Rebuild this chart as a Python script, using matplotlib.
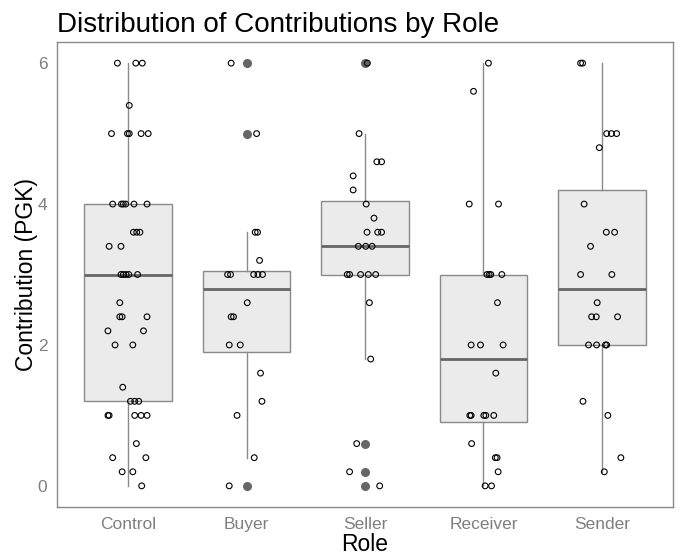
import numpy as np
import matplotlib
matplotlib.use("Agg")
import matplotlib.pyplot as plt

plt.rcParams['font.family'] = ['Liberation Sans', 'DejaVu Sans']

roles = ['Control', 'Buyer', 'Seller', 'Receiver', 'Sender']

# contributions (PGK), with the horizontal jitter of each point
control = [6.0, 6.0, 6.0, 5.4, 5.0, 5.0, 5.0, 5.0, 5.0,
           4.0, 4.0, 4.0, 4.0, 4.0, 4.0, 3.6, 3.6, 3.6, 3.4, 3.4,
           3.0, 3.0, 3.0, 3.0, 3.0, 2.6, 2.4, 2.4, 2.4, 2.2, 2.2, 2.0, 2.0,
           1.4, 1.2, 1.2, 1.2, 1.0, 1.0, 1.0, 1.0, 1.0,
           0.6, 0.4, 0.4, 0.2, 0.2, 0.0]
control_jit = [-0.09, 0.065, 0.12, 0.01, -0.14, -0.005, 0.01, 0.11, 0.17,
               -0.13, -0.056, -0.04, -0.02, 0.05, 0.16, 0.045, 0.073, 0.10, -0.16, -0.06,
               -0.06, -0.04, -0.017, 0.006, 0.08, -0.07, -0.07, -0.05, 0.16, -0.17, 0.13, -0.11, 0.04,
               -0.045, 0.02, 0.056, 0.09, -0.17, -0.16, 0.056, 0.11, 0.16,
               0.07, -0.13, 0.15, -0.05, 0.04, 0.115]

buyer = [6.0, 5.0, 3.6, 3.6, 3.2, 3.0, 3.0, 3.0, 3.0, 3.0,
         2.6, 2.4, 2.4, 2.0, 2.0, 1.6, 1.2, 1.0, 0.4, 0.0]
buyer_jit = [-0.13, 0.085, 0.073, 0.093, 0.11, -0.16, -0.135, 0.06, 0.096, 0.135,
             0.006, -0.13, -0.11, -0.146, -0.053, 0.118, 0.13, -0.08, 0.065, -0.146]

seller = [6.0, 5.0, 4.6, 4.6, 4.4, 4.2, 4.0, 3.8, 3.6, 3.6, 3.6,
          3.4, 3.4, 3.4, 3.0, 3.0, 3.0, 3.0, 3.0, 2.6, 1.8, 0.6, 0.2, 0.0]
seller_jit = [0.02, -0.05, 0.10, 0.14, -0.10, -0.10, 0.01, 0.076, 0.017, 0.107, 0.14,
              -0.056, 0.006, 0.06, -0.15, -0.13, -0.037, 0.028, 0.09, 0.037, 0.048, -0.07, -0.13, 0.124]

receiver = [6.0, 5.6, 4.0, 4.0, 3.0, 3.0, 3.0, 3.0, 2.6, 2.0, 2.0, 2.0,
            1.6, 1.0, 1.0, 1.0, 1.0, 1.0, 0.6, 0.4, 0.4, 0.2, 0.0, 0.0]
receiver_jit = [0.042, -0.084, -0.12, 0.127, 0.03, 0.048, 0.062, 0.155, 0.118, -0.104, -0.025, 0.166,
                0.104, -0.115, -0.104, 0.003, 0.02, 0.087, -0.10, 0.10, 0.115, 0.124, 0.014, 0.068]

sender = [6.0, 6.0, 5.0, 5.0, 5.0, 4.8, 4.0, 3.6, 3.6, 3.4, 3.0, 3.0,
          2.6, 2.4, 2.4, 2.4, 2.0, 2.0, 2.0, 2.0, 1.2, 1.0, 0.4, 0.2]
sender_jit = [-0.18, -0.163, 0.04, 0.08, 0.124, -0.022, -0.15, 0.037, 0.107, -0.096, -0.18, 0.084,
              -0.04, -0.087, -0.048, 0.132, -0.113, -0.045, 0.03, 0.04, -0.16, 0.05, 0.16, 0.02]

data = [control, buyer, seller, receiver, sender]
jitter = [control_jit, buyer_jit, seller_jit, receiver_jit, sender_jit]

fig = plt.figure(figsize=(6.8, 5.56), dpi=100)
fig.set_facecolor('white')
ax = fig.add_axes([57/680, 1-507/556, 616/680, 465/556])

pos = np.arange(1, len(roles)+1)
bp = ax.boxplot(data, positions=pos, widths=0.74, patch_artist=True, whis=1.5,
                showcaps=False, zorder=1,
                boxprops=dict(facecolor='#ebebeb', edgecolor='#8a8a8a', linewidth=1.0),
                medianprops=dict(color='#666666', linewidth=2.0),
                whiskerprops=dict(color='#8a8a8a', linewidth=1.0),
                flierprops=dict(marker='o', markerfacecolor='#666666', markeredgecolor='#666666',
                                markersize=5.5))

for i in range(len(roles)):
    x = pos[i] + np.asarray(jitter[i])
    ax.scatter(x, data[i], s=17, facecolors='none', edgecolors='black', linewidths=0.8, zorder=3)

ax.set_xlim(0.4, 5.6)
ax.set_ylim(-0.3, 6.3)
ax.set_xticks(pos)
ax.set_xticklabels(roles)
ax.set_yticks([0, 2, 4, 6])
ax.tick_params(length=0, labelsize=12.5, labelcolor='#7f7f7f', pad=7)
for s in ax.spines.values():
    s.set_color('#8a8a8a')
    s.set_linewidth(1.0)

ax.set_xlabel('Role', fontsize=16.5, color='black', labelpad=1)
ax.set_ylabel('Contribution (PGK)', fontsize=16.5, color='black', labelpad=0)
ax.set_title('Distribution of Contributions by Role', fontsize=20, loc='left', pad=7)

fig.savefig('out.png', dpi=100)
